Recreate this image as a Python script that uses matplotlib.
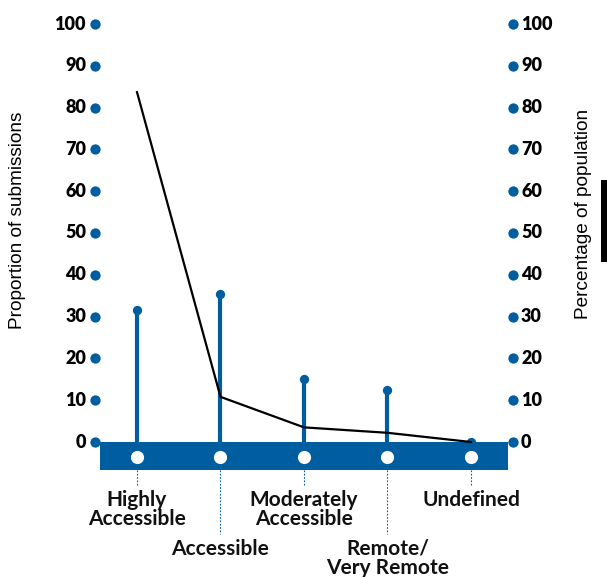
import matplotlib.pyplot as plt
from matplotlib.patches import Rectangle

categories = ["Highly\nAccessible", "Accessible", "Moderately\nAccessible",
              "Remote/\nVery Remote", "Undefined"]
submissions = [31.5, 35.5, 15, 12.5, 0]
population = [83.7, 10.8, 3.5, 2.2, 0]
yticks = [0, 10, 20, 30, 40, 50, 60, 70, 80, 90, 100]

blue = "#005DA0"
W, H = 607, 577
fig = plt.figure(figsize=(W / 100, H / 100), dpi=100)
ax = fig.add_axes([0, 0, 1, 1])

# pixel mapping: category i at 137 + 83.5*i, value 0 at y=442, 4.18 px per unit
px_x, x0 = 83.5, 137
px_y, y0 = 4.18, 442
ax.set_xlim(-x0 / px_x, (W - x0) / px_x)
ax.set_ylim((y0 - H) / px_y, y0 / px_y)
ax.axis("off")

x = list(range(len(categories)))

# band at the bottom
ax.add_patch(Rectangle((-0.44, -6.7), 4.88, 6.7, color=blue, lw=0, zorder=2))
ax.scatter(x, [-3.6] * len(x), s=90, color="white", zorder=5, lw=0)

# stems
for xi, v in zip(x, submissions):
    ax.plot([xi, xi], [0, v], color=blue, lw=3, solid_capstyle="butt", zorder=3)
ax.scatter(x, submissions, s=45, color=blue, zorder=4, lw=0)

# population line
ax.plot(x, population, color="black", lw=1.6, zorder=4)

# tick dots and labels
for xp, ha, dx in [(-0.5, "right", -0.11), (4.5, "left", 0.1)]:
    ax.scatter([xp] * len(yticks), yticks, s=55, color=blue, lw=0, zorder=3)
    for t in yticks:
        ax.text(xp + dx, t, str(t), ha=ha, va="center", fontsize=13,
                fontweight="heavy", family="Lato", color="black")

# category labels with dotted leaders
low = [False, True, False, True, False]
for xi, lab, lo in zip(x, categories, low):
    ybot = -10.5 if not lo else -22
    ax.plot([xi, xi], [-6.7, ybot], color=blue, lw=0.8, ls=(0, (1.5, 1.5)), zorder=2)
    top = -11.4 if not lo else -23.2
    ax.text(xi, top, lab, ha="center", va="top", fontsize=15,
            family="Lato", fontweight="bold", color="#111111", linespacing=0.95)

fig.text(18 / W, 1 - 220 / H, "Proportion of submissions", rotation=90,
         ha="center", va="center", fontsize=13.7, family="Liberation Sans")
fig.text(583 / W, 1 - 214 / H, "Percentage of population", rotation=90,
         ha="center", va="center", fontsize=13.7, family="Liberation Sans")

# black marker bar at right edge
fig.patches.append(Rectangle((601 / W, 1 - 262 / H), 6 / W, 82 / H,
                             transform=fig.transFigure, color="black", lw=0))

fig.savefig("out.png", dpi=100)
